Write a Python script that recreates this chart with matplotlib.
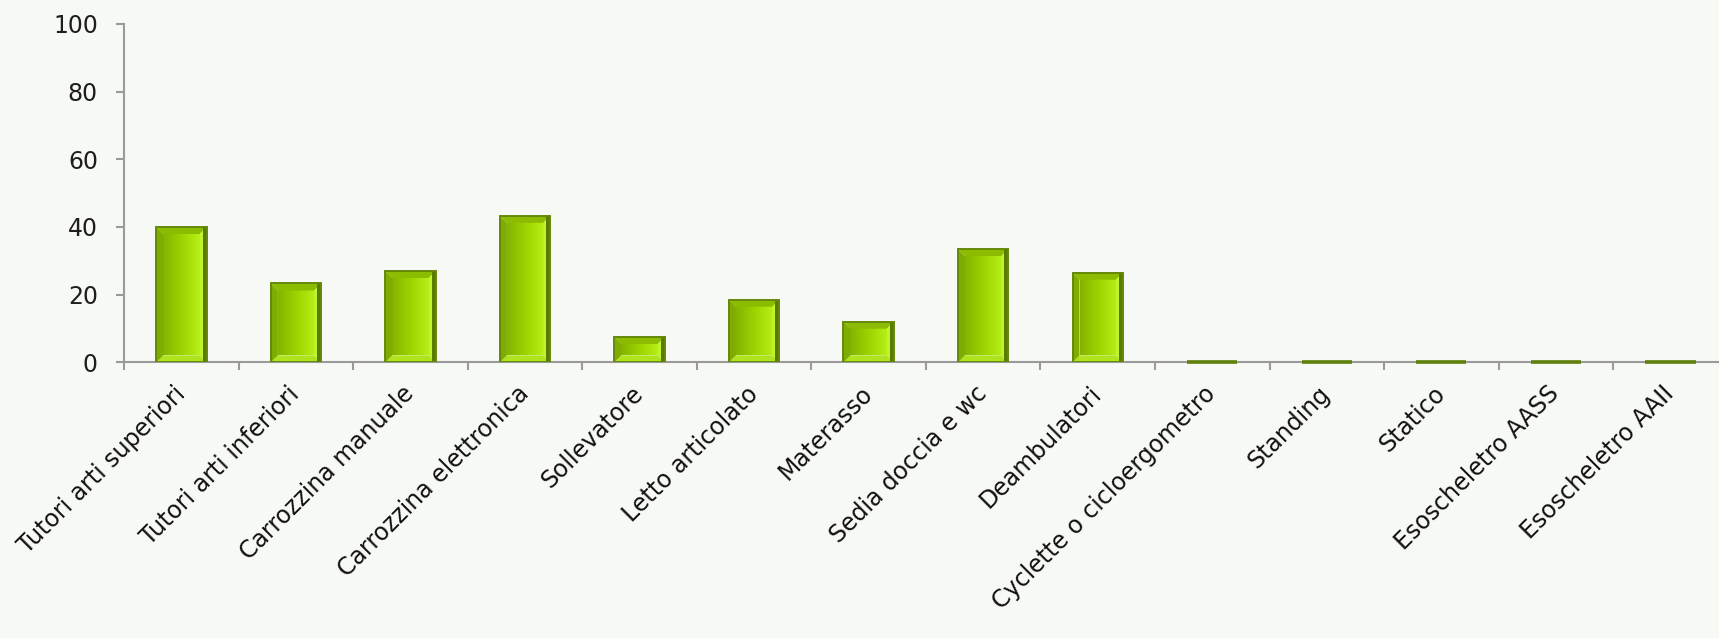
import numpy as np
import matplotlib
matplotlib.use("Agg")
import matplotlib.pyplot as plt
from matplotlib.patches import Polygon
from matplotlib.colors import LinearSegmentedColormap

# data
categories = ["Tutori arti superiori", "Tutori arti inferiori", "Carrozzina manuale",
              "Carrozzina elettronica", "Sollevatore", "Letto articolato", "Materasso",
              "Sedia doccia e wc", "Deambulatori", "Cyclette o cicloergometro",
              "Standing", "Statico", "Esoscheletro AASS", "Esoscheletro AAII"]
values = [40.0, 23.3, 27.0, 43.3, 7.5, 18.5, 12.0, 33.5, 26.5, 0, 0, 0, 0, 0]
yticks = [0, 20, 40, 60, 80, 100]

BG = "#f7f9f4"
AXC = "#9a9a9a"
plt.rcParams["font.family"] = ["DejaVu Sans"]

fig = plt.figure(figsize=(17.19, 6.38), dpi=100)
fig.patch.set_facecolor(BG)
ax = fig.add_axes([0.0723, 0.4321, 0.9327, 0.5303])
ax.set_facecolor(BG)

x = np.arange(len(categories))
w = 0.44
ax.set_xlim(-0.5, len(categories) - 0.5)
ax.set_ylim(0, 100)

# outline bars
ax.bar(x, values, width=w, fill=False, edgecolor="#65880a", linewidth=1.4, zorder=5)
# zero values: just a flat green line on the axis
zx = np.array([xi for xi, v in zip(x, values) if v == 0])
ax.hlines([0] * len(zx), zx - w / 2, zx + w / 2, colors="#5e7f08", linewidth=2.6,
          zorder=5, clip_on=False)

# bevel look: gradient face + four trapezoids, built in pixel space from the bar geometry
face = LinearSegmentedColormap.from_list("face", ["#84b400", "#9ed200", "#b6ee16"])
grad = np.linspace(0, 1, 64).reshape(1, -1)
inv = ax.transData.inverted()
b = 7
for xi, v in zip(x, values):
    if v <= 0:
        continue
    (x0, y0), (x1, y1) = ax.transData.transform([(xi - w / 2, 0), (xi + w / 2, v)])
    bb = min(b, (y1 - y0) / 2.5)
    ix0, iy0 = inv.transform((x0 + bb, y0 + bb))
    ix1, iy1 = inv.transform((x1 - bb, y1 - bb))
    ax.imshow(grad, cmap=face, extent=(ix0, ix1, iy0, iy1), aspect="auto",
              interpolation="bicubic", zorder=3)
    pieces = [
        ([(x0, y1), (x1, y1), (x1 - bb, y1 - bb), (x0 + bb, y1 - bb)], "#8cbc00"),
        ([(x0, y0), (x1, y0), (x1 - bb, y0 + bb), (x0 + bb, y0 + bb)], "#aee31e"),
        ([(x0, y0), (x0 + bb, y0 + bb), (x0 + bb, y1 - bb), (x0, y1)], "#7eac00"),
        ([(x1, y0), (x1 - bb, y0 + bb), (x1 - bb, y1 - bb), (x1, y1)], "#bdf52a"),
        ([(x1 - 4, y0), (x1, y0), (x1, y1), (x1 - 4, y1)], "#587b00"),
    ]
    for pts, c in pieces:
        ax.add_patch(Polygon(inv.transform(pts), closed=True, facecolor=c,
                             edgecolor="none", zorder=4))

for s in ["top", "right"]:
    ax.spines[s].set_visible(False)
for s in ["left", "bottom"]:
    ax.spines[s].set_color(AXC)
    ax.spines[s].set_linewidth(1.5)
    ax.spines[s].set_zorder(2.5)

ax.set_yticks(yticks)
ax.tick_params(axis="y", length=6, width=1.5, color=AXC, pad=13, labelsize=17,
               labelcolor="#1e1e1e")

# category separators as major ticks, names as minor tick labels
ax.set_xticks(np.arange(-0.5, len(categories), 1.0))
ax.set_xticklabels([])
ax.tick_params(axis="x", which="major", length=6, width=1.5, color=AXC)
ax.set_xticks(x, minor=True)
ax.set_xticklabels(categories, minor=True, rotation=45, ha="right", va="center",
                   rotation_mode="anchor", fontsize=17, color="#111111")
ax.tick_params(axis="x", which="minor", length=0, pad=20)

fig.savefig("out.png", dpi=100, facecolor=BG)
